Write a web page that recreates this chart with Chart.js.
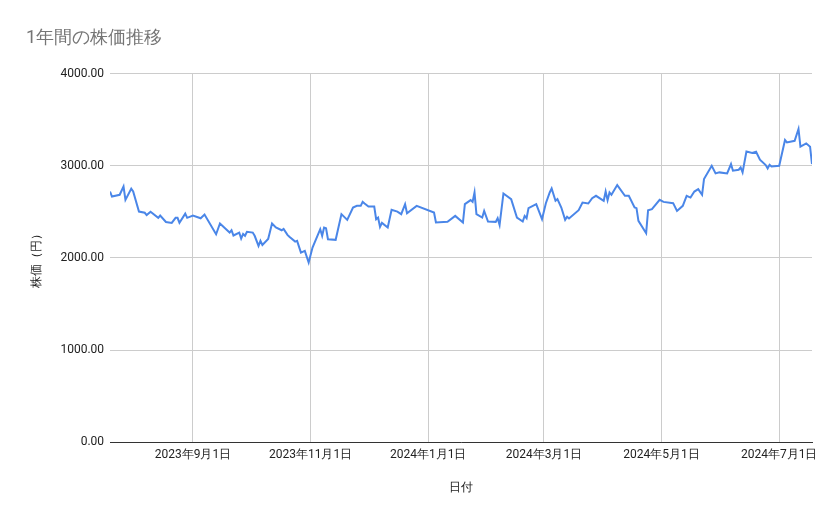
<!DOCTYPE html>
<html>
<head>
<meta charset="utf-8">
<script src="https://cdn.jsdelivr.net/npm/chart.js@4"></script>
<style>
  body { margin: 0; background: #fff; }
</style>
</head>
<body>
<canvas id="myChart" width="839" height="519"></canvas>
<script>
// 2023年9月1日からの日数
var days = [-43,-42,-38,-36,-35,-32,-31,-28,-25,-24,-22,-18,-17,-14,-11,-9,-8,-7,-4,-3,0,4,6,12,14,19,20,21,24,25,26,27,28,31,32,34,35,36,39,41,43,46,47,49,50,53,54,56,58,60,62,66,67,68,69,70,74,77,80,83,85,87,88,89,91,94,95,96,97,98,101,103,106,108,110,111,116,125,126,132,136,140,141,144,145,146,147,150,151,153,157,158,159,161,165,168,171,172,173,174,178,181,183,185,186,188,189,191,193,194,195,200,202,205,207,209,213,214,215,216,217,220,224,226,229,230,231,235,236,238,242,244,249,251,254,256,258,260,262,264,265,269,271,273,277,279,280,283,284,285,287,290,292,294,297,298,299,300,304,307,308,312,314,315,318,320,321];
// 株価（円）
var prices = [2720,2666,2685,2775,2630,2750,2720,2503,2490,2465,2500,2435,2460,2390,2380,2435,2435,2380,2480,2435,2460,2430,2470,2257,2373,2275,2300,2243,2275,2210,2260,2240,2283,2275,2240,2130,2185,2140,2205,2373,2330,2300,2315,2250,2230,2177,2185,2058,2076,1950,2112,2312,2240,2330,2323,2203,2196,2475,2413,2547,2565,2565,2608,2590,2557,2557,2420,2438,2336,2380,2330,2522,2503,2475,2583,2485,2565,2492,2384,2391,2456,2384,2583,2627,2608,2710,2475,2438,2510,2395,2391,2431,2358,2699,2638,2438,2395,2456,2431,2540,2583,2420,2594,2710,2753,2620,2638,2547,2413,2446,2428,2518,2601,2590,2648,2674,2620,2720,2627,2710,2685,2790,2674,2674,2547,2540,2402,2268,2518,2529,2630,2608,2594,2510,2565,2674,2655,2720,2746,2685,2855,3000,2917,2928,2917,3018,2946,2957,2982,2928,3155,3138,3152,3065,3008,2971,3011,2992,3000,3279,3253,3271,3399,3207,3243,3207,3018];
// x軸の目盛り
var tickDays = [0,61,122,182,243,304];
var tickLabels = ['2023年9月1日','2023年11月1日','2024年1月1日','2024年3月1日','2024年5月1日','2024年7月1日'];

var points = days.map(function (d, i) { return { x: d, y: prices[i] }; });
var font = 'Roboto, Arial, sans-serif';

var ctx = document.getElementById('myChart').getContext('2d');
var myChart = new Chart(ctx, {
    type: 'line',
    data: {
        datasets: [{
            data: points,
            borderColor: '#4a86e8',
            borderWidth: 2,
            pointRadius: 0,
            tension: 0
        }]
    },
    options: {
        responsive: false,
        animation: false,
        layout: { padding: { left: 26, right: 27, top: 10, bottom: 20 } },
        plugins: {
            legend: { display: false },
            tooltip: { enabled: false },
            title: {
                display: true,
                text: '1年間の株価推移',
                align: 'start',
                color: '#757575',
                font: { family: font, size: 18, weight: 'normal' },
                padding: { top: 18, bottom: 24 }
            }
        },
        scales: {
            x: {
                type: 'linear',
                min: -43,
                max: 321,
                afterBuildTicks: function (axis) {
                    axis.ticks = tickDays.map(function (v) { return { value: v }; });
                },
                ticks: {
                    autoSkip: false,
                    maxRotation: 0,
                    color: '#222',
                    font: { family: font, size: 12 },
                    padding: 6,
                    callback: function (v) { return tickLabels[tickDays.indexOf(v)]; }
                },
                grid: { color: '#cccccc', drawTicks: false },
                border: { color: '#333' },
                title: { display: true, text: '日付', color: '#222', font: { family: font, size: 12 }, padding: { top: 12 } }
            },
            y: {
                min: 0,
                max: 4000,
                ticks: {
                    stepSize: 1000,
                    color: '#222',
                    font: { family: font, size: 12 },
                    padding: 6,
                    callback: function (v) { return v.toFixed(2); }
                },
                grid: { color: '#cccccc', drawTicks: false },
                border: { display: false },
                title: { display: true, text: '株価（円）', color: '#222', font: { family: font, size: 12 }, padding: { bottom: 10 } }
            }
        }
    }
});
</script>
</body>
</html>
